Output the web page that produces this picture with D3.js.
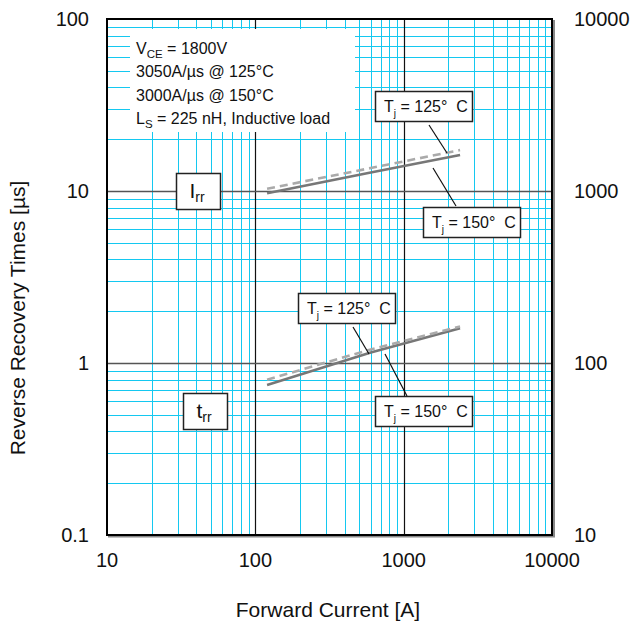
<!DOCTYPE html>
<html><head><meta charset="utf-8">
<script src="https://cdn.jsdelivr.net/npm/d3@7"></script>
<style>body{margin:0;background:#fff}svg{display:block;font-family:"Liberation Sans",Arial,sans-serif}</style>
</head><body><svg id="c" width="644" height="625"></svg>
<script>
const xTicks = [10, 100, 1000, 10000];
const yTicks = [0.1, 1, 10, 100];
const yRightTicks = [10, 100, 1000, 10000];
const current = [120, 600, 2400];
const irr125 = [10.3, 13.6, 17.3];
const irr150 = [9.7, 12.8, 16.2];
const trr125 = [0.80, 1.20, 1.63];
const trr150 = [0.745, 1.15, 1.59];
const conditions = ["V|CE| = 1800V", "3050A/µs @ 125°C", "3000A/µs @ 150°C", "L|S| = 225 nH, Inductive load"];

const svg = d3.select("#c");
const L = 107, R = 552, T = 19, B = 535;
const x = d3.scaleLog().domain([10, 10000]).range([L, R]);
const y = d3.scaleLog().domain([0.1, 100]).range([B, T]);
const yR = d3.scaleLog().domain([10, 10000]).range([B, T]);

// minor grid
const minorX = [], minorY = [];
for (let d = 10; d < 10000; d *= 10) for (let k = 2; k <= 9; k++) minorX.push(d * k);
for (let d = 0.1; d < 100; d *= 10) for (let k = 2; k <= 9; k++) minorY.push(d * k);
const g = svg.append("g");
g.selectAll(".mx").data(minorX).join("line")
  .attr("x1", d => Math.round(x(d)) + 0.5).attr("x2", d => Math.round(x(d)) + 0.5)
  .attr("y1", T).attr("y2", B).attr("stroke", "#14c8f0").attr("stroke-width", 1);
g.selectAll(".my").data(minorY).join("line")
  .attr("y1", d => Math.round(y(d)) + 0.5).attr("y2", d => Math.round(y(d)) + 0.5)
  .attr("x1", L).attr("x2", R).attr("stroke", "#14c8f0").attr("stroke-width", 1);
// major grid
g.selectAll(".Mx").data(xTicks.slice(1, -1)).join("line")
  .attr("x1", d => Math.round(x(d)) + 0.5).attr("x2", d => Math.round(x(d)) + 0.5)
  .attr("y1", T).attr("y2", B).attr("stroke", "#111").attr("stroke-width", 1.2);
g.selectAll(".My").data(yTicks.slice(1, -1)).join("line")
  .attr("y1", d => Math.round(y(d)) + 0.5).attr("y2", d => Math.round(y(d)) + 0.5)
  .attr("x1", L).attr("x2", R).attr("stroke", "#555").attr("stroke-width", 1.6);

// conditions box
svg.append("rect").attr("x", 130).attr("y", 29).attr("width", 225).attr("height", 103).attr("fill", "#fff");
const ct = svg.append("g").attr("font-size", 16).attr("fill", "#111");
conditions.forEach((s, i) => {
  const parts = s.split("|");
  const t = ct.append("text").attr("x", 136).attr("y", 54 + i * 23.4);
  t.append("tspan").text(parts[0]);
  if (parts.length > 1) {
    t.append("tspan").attr("font-size", 11.5).attr("dy", 4).text(parts[1]);
    t.append("tspan").attr("dy", -4).text(parts[2]);
  }
});

// curves
const line = d3.line().x(d => x(d[0])).y(d => y(d[1]));
function curve(vals, dashed) {
  svg.append("path").datum(current.map((c, i) => [c, vals[i]]))
    .attr("d", line).attr("fill", "none")
    .attr("stroke", dashed ? "#aaaaaa" : "#777777").attr("stroke-width", 2.6)
    .attr("stroke-dasharray", dashed ? "8,5" : null);
}
curve(irr150, false); curve(irr125, true);
curve(trr150, false); curve(trr125, true);

// leader lines
const leaders = [[429, 125, 447, 153], [433, 168, 456, 206], [353, 327, 369, 354], [385, 354, 407, 396]];
svg.selectAll(".ld").data(leaders).join("line")
  .attr("x1", d => d[0]).attr("y1", d => d[1]).attr("x2", d => d[2]).attr("y2", d => d[3])
  .attr("stroke", "#111").attr("stroke-width", 1.2);

// label boxes
function box(x0, y0, w, h) {
  svg.append("rect").attr("x", x0 + 0.5).attr("y", y0 + 0.5).attr("width", w).attr("height", h)
    .attr("fill", "#fff").attr("stroke", "#222").attr("stroke-width", 1.5);
}
function tjLabel(x0, y0, temp) {
  box(x0, y0, 97, 30);
  const t = svg.append("text").attr("x", x0 + 9).attr("y", y0 + 21).attr("font-size", 16).attr("fill", "#111");
  t.append("tspan").text("T");
  t.append("tspan").attr("font-size", 10).attr("dy", 5).text("j");
  t.append("tspan").attr("dy", -5).text(" = " + temp + "°");
  t.append("tspan").attr("dx", 9).text("C");
}
tjLabel(375, 91, 125);
tjLabel(423, 207, 150);
tjLabel(298, 293, 125);
tjLabel(375, 396, 150);

function rrLabel(x0, y0, main) {
  box(x0, y0, 44, 36);
  const t = svg.append("text").attr("x", x0 + 21).attr("y", y0 + 25).attr("font-size", 21)
    .attr("text-anchor", "middle").attr("fill", "#111");
  t.append("tspan").text(main);
  t.append("tspan").attr("font-size", 14).attr("dy", 4).text("rr");
}
rrLabel(176, 173, "I");
rrLabel(183, 393, "t");

// frame with shadow
svg.append("line").attr("x1", R + 1.5).attr("x2", R + 1.5).attr("y1", T + 1).attr("y2", B + 2)
  .attr("stroke", "#888").attr("stroke-width", 3);
svg.append("line").attr("x1", L + 1).attr("x2", R + 3).attr("y1", B + 1.5).attr("y2", B + 1.5)
  .attr("stroke", "#888").attr("stroke-width", 2);
svg.append("rect").attr("x", L).attr("y", T).attr("width", R - L).attr("height", B - T)
  .attr("fill", "none").attr("stroke", "#000").attr("stroke-width", 2);

// axes labels
const fmt = d => d3.format(",")(d).replace(/,/g, "");
svg.append("g").selectAll("text").data(xTicks).join("text")
  .attr("x", d => x(d)).attr("y", 567).attr("text-anchor", "middle").attr("font-size", 20)
  .attr("fill", "#111").text(fmt);
svg.append("g").selectAll("text").data(yTicks).join("text")
  .attr("x", 89).attr("y", d => y(d) + 7).attr("text-anchor", "end").attr("font-size", 20)
  .attr("fill", "#111").text(d => d < 1 ? "0.1" : fmt(d));
svg.append("g").selectAll("text").data(yRightTicks).join("text")
  .attr("x", 574).attr("y", d => yR(d) + 7).attr("text-anchor", "start").attr("font-size", 20)
  .attr("fill", "#111").text(fmt);

svg.append("text").attr("x", 328).attr("y", 617).attr("text-anchor", "middle")
  .attr("font-size", 21).attr("fill", "#111").text("Forward Current [A]");
svg.append("text").attr("transform", "translate(25,318) rotate(-90)")
  .attr("text-anchor", "middle").attr("font-size", 21).attr("fill", "#111").text("Reverse Recovery Times [µs]");
</script></body></html>
